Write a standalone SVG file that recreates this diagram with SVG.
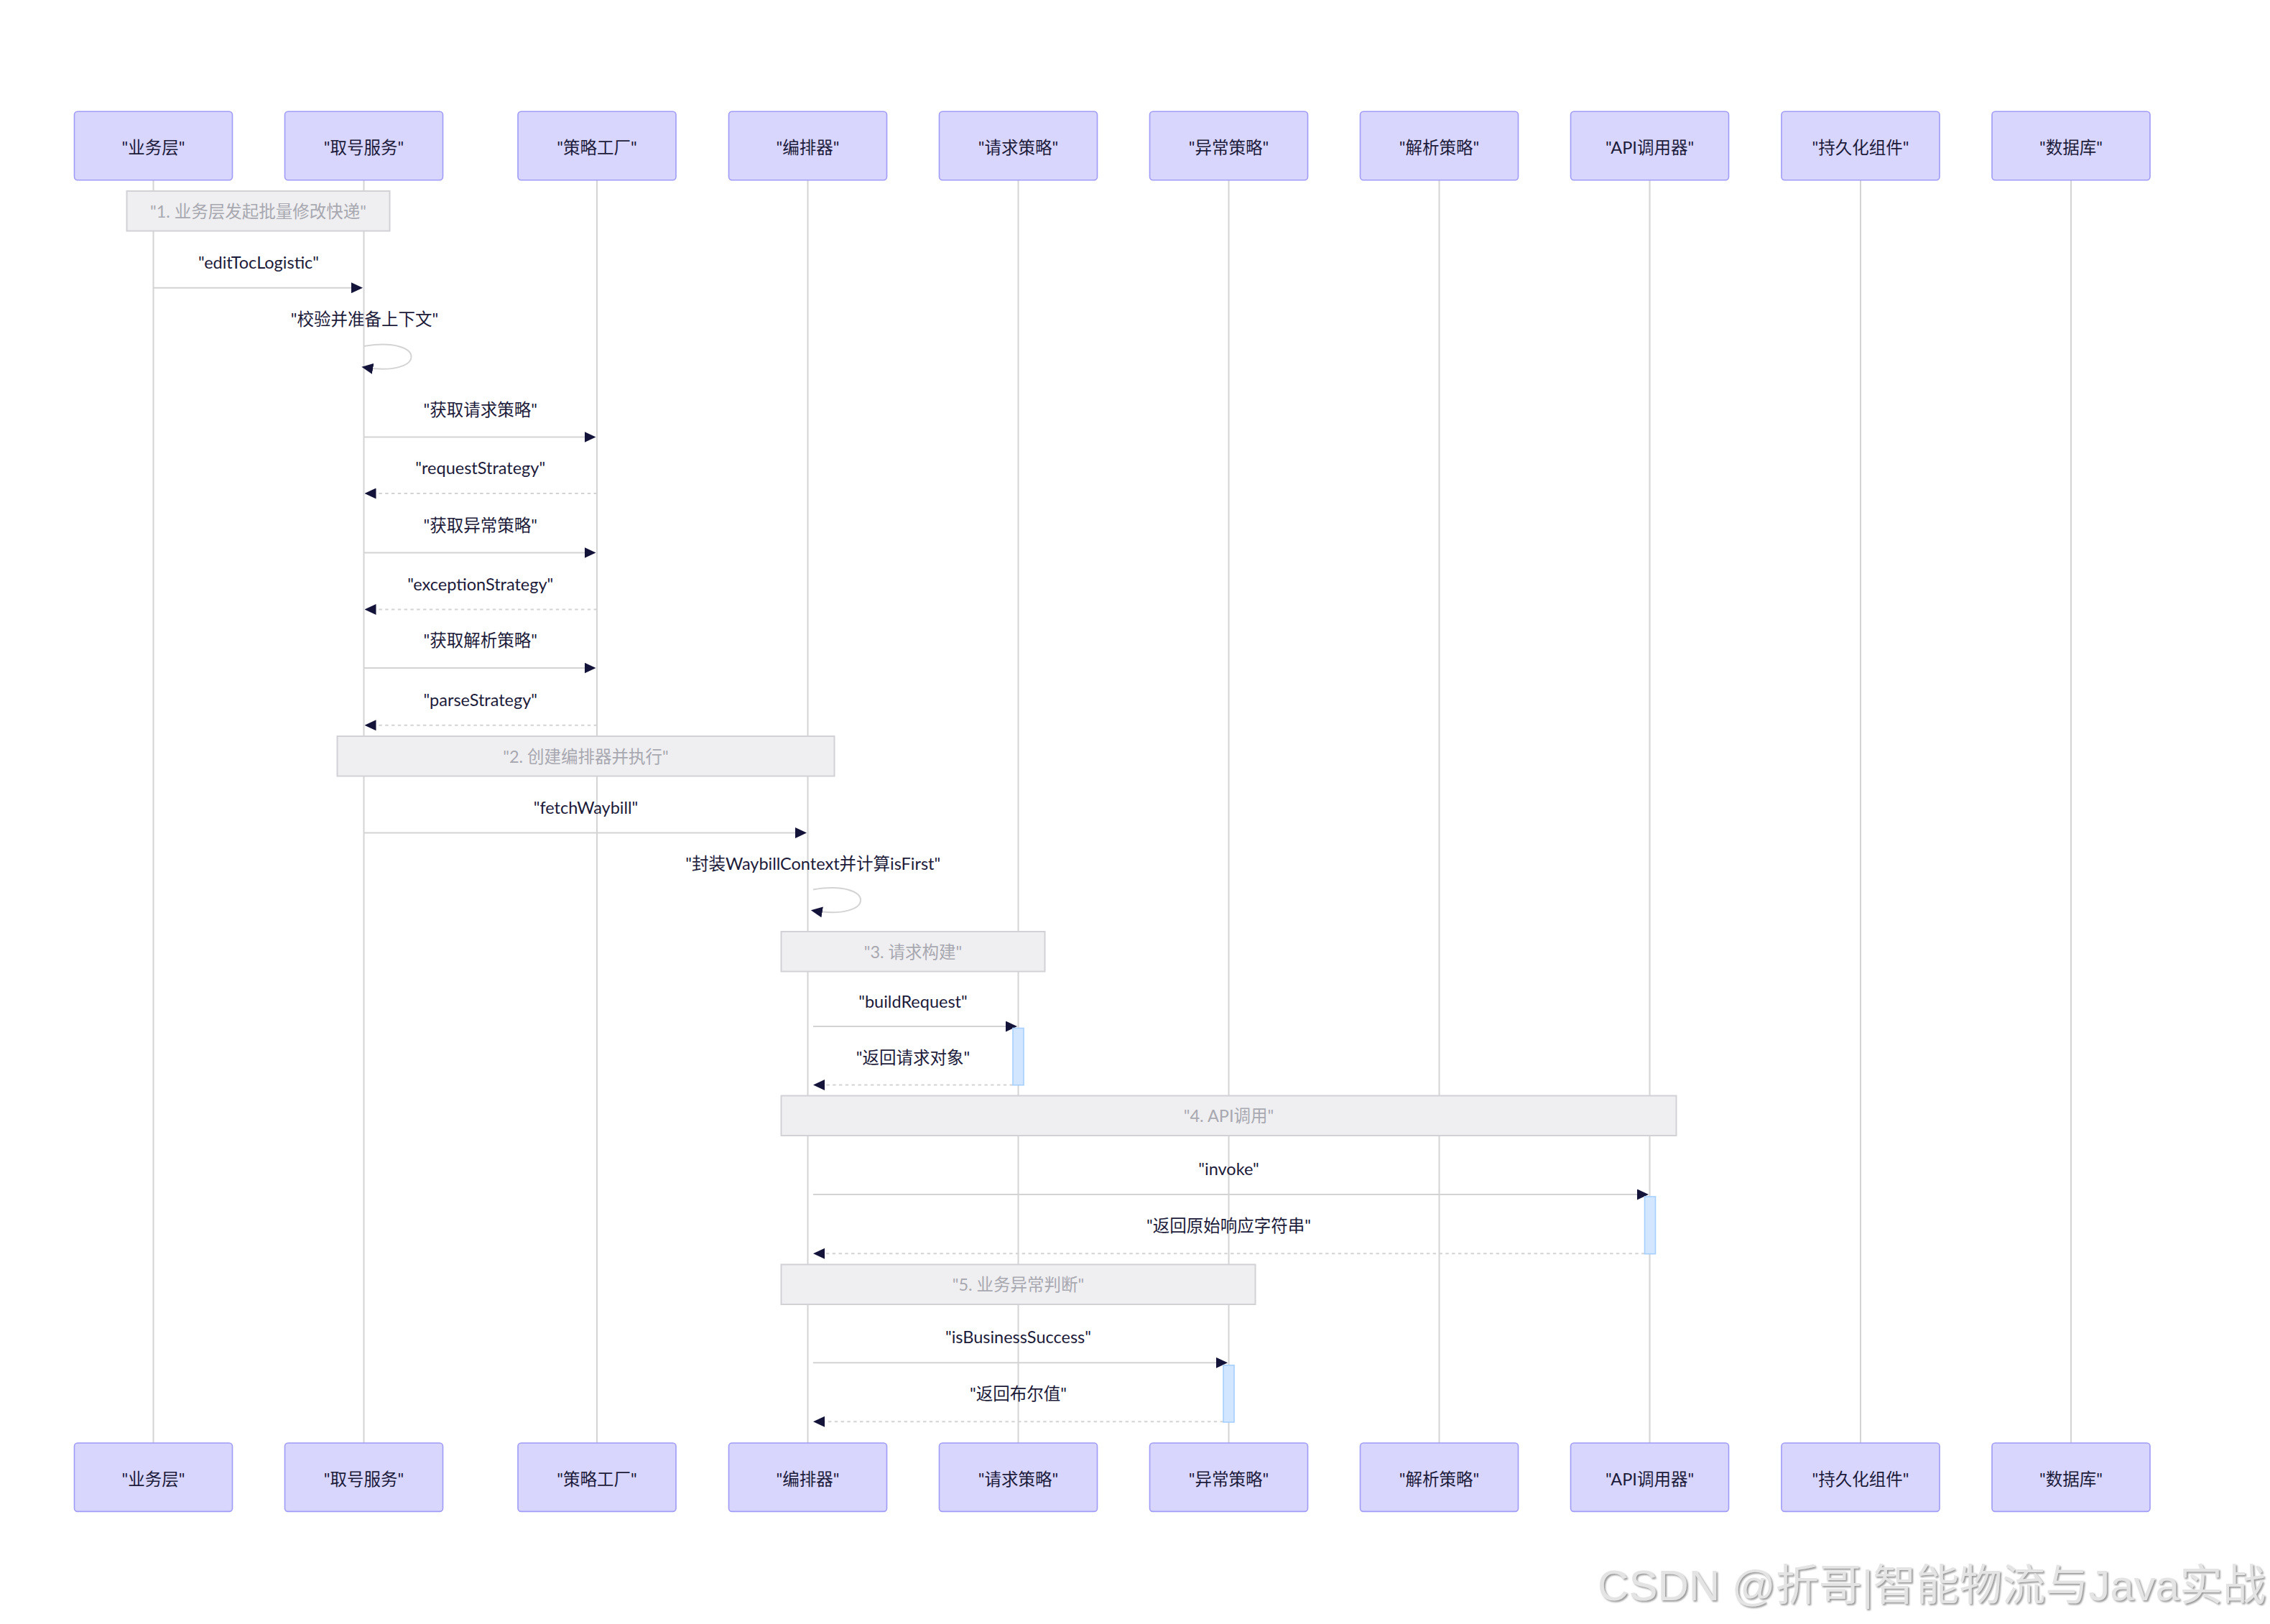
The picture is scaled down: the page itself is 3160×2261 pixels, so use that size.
<svg xmlns="http://www.w3.org/2000/svg" width="3160" height="2261" viewBox="0 0 3160 2261">
<defs>
<style>
text{font-family:Lato,"Noto Sans CJK SC",sans-serif;font-size:23.5px;text-anchor:middle}
.actor{fill:#d9d6fe;stroke:#9f9bf7;stroke-width:1.6}
.atext{fill:#1c1b3a}
.life{stroke:#d4d4d4;stroke-width:2}
.note{fill:#efeff2;stroke:#d2d2d6;stroke-width:2}
.ntext{fill:#a8a8b0}
.msg{fill:none;stroke:#d3d3d3;stroke-width:2;marker-end:url(#ah)}
.dash{stroke-dasharray:4.4 4.4}
.mtext{fill:#1c1b3a}
.act{fill:#d2e6ff;stroke:#a6cfff;stroke-width:1.6}
.wm{font-family:"Liberation Sans","Noto Sans CJK SC",sans-serif;font-size:60px;text-anchor:end;fill:#e4e4e4;filter:url(#sh)}
</style>
<marker id="ah" viewBox="0 0 10 10" markerUnits="userSpaceOnUse" markerWidth="16" markerHeight="15" refX="8" refY="5" orient="auto" preserveAspectRatio="none">
<path d="M0,0 L10,5 L0,10 z" fill="#14143a"/>
</marker>
<filter id="sh" x="-5%" y="-20%" width="110%" height="140%">
<feDropShadow dx="2" dy="2" stdDeviation="1" flood-color="#9a9a9a"/>
</filter>
</defs>
<rect width="3160" height="2261" fill="#ffffff"/>

<g id="p1">
<line class="life" x1="213.5" y1="250.7" x2="213.5" y2="2009"/>
<rect class="actor" x="103.5" y="155.3" width="220" height="95.4" rx="4.4"/>
<text class="atext" x="213.5" y="214">"业务层"</text>
<rect class="actor" x="103.5" y="2009" width="220" height="95.4" rx="4.4"/>
<text class="atext" x="213.5" y="2068">"业务层"</text>
</g>
<g id="p2">
<line class="life" x1="506.5" y1="250.7" x2="506.5" y2="2009"/>
<rect class="actor" x="396.5" y="155.3" width="220" height="95.4" rx="4.4"/>
<text class="atext" x="506.5" y="214">"取号服务"</text>
<rect class="actor" x="396.5" y="2009" width="220" height="95.4" rx="4.4"/>
<text class="atext" x="506.5" y="2068">"取号服务"</text>
</g>
<g id="p3">
<line class="life" x1="831" y1="250.7" x2="831" y2="2009"/>
<rect class="actor" x="721" y="155.3" width="220" height="95.4" rx="4.4"/>
<text class="atext" x="831" y="214">"策略工厂"</text>
<rect class="actor" x="721" y="2009" width="220" height="95.4" rx="4.4"/>
<text class="atext" x="831" y="2068">"策略工厂"</text>
</g>
<g id="p4">
<line class="life" x1="1124.5" y1="250.7" x2="1124.5" y2="2009"/>
<rect class="actor" x="1014.5" y="155.3" width="220" height="95.4" rx="4.4"/>
<text class="atext" x="1124.5" y="214">"编排器"</text>
<rect class="actor" x="1014.5" y="2009" width="220" height="95.4" rx="4.4"/>
<text class="atext" x="1124.5" y="2068">"编排器"</text>
</g>
<g id="p5">
<line class="life" x1="1417.5" y1="250.7" x2="1417.5" y2="2009"/>
<rect class="actor" x="1307.5" y="155.3" width="220" height="95.4" rx="4.4"/>
<text class="atext" x="1417.5" y="214">"请求策略"</text>
<rect class="actor" x="1307.5" y="2009" width="220" height="95.4" rx="4.4"/>
<text class="atext" x="1417.5" y="2068">"请求策略"</text>
</g>
<g id="p6">
<line class="life" x1="1710.5" y1="250.7" x2="1710.5" y2="2009"/>
<rect class="actor" x="1600.5" y="155.3" width="220" height="95.4" rx="4.4"/>
<text class="atext" x="1710.5" y="214">"异常策略"</text>
<rect class="actor" x="1600.5" y="2009" width="220" height="95.4" rx="4.4"/>
<text class="atext" x="1710.5" y="2068">"异常策略"</text>
</g>
<g id="p7">
<line class="life" x1="2003.5" y1="250.7" x2="2003.5" y2="2009"/>
<rect class="actor" x="1893.5" y="155.3" width="220" height="95.4" rx="4.4"/>
<text class="atext" x="2003.5" y="214">"解析策略"</text>
<rect class="actor" x="1893.5" y="2009" width="220" height="95.4" rx="4.4"/>
<text class="atext" x="2003.5" y="2068">"解析策略"</text>
</g>
<g id="p8">
<line class="life" x1="2296.5" y1="250.7" x2="2296.5" y2="2009"/>
<rect class="actor" x="2186.5" y="155.3" width="220" height="95.4" rx="4.4"/>
<text class="atext" x="2296.5" y="214">"API调用器"</text>
<rect class="actor" x="2186.5" y="2009" width="220" height="95.4" rx="4.4"/>
<text class="atext" x="2296.5" y="2068">"API调用器"</text>
</g>
<g id="p9">
<line class="life" x1="2590" y1="250.7" x2="2590" y2="2009"/>
<rect class="actor" x="2480" y="155.3" width="220" height="95.4" rx="4.4"/>
<text class="atext" x="2590" y="214">"持久化组件"</text>
<rect class="actor" x="2480" y="2009" width="220" height="95.4" rx="4.4"/>
<text class="atext" x="2590" y="2068">"持久化组件"</text>
</g>
<g id="p10">
<line class="life" x1="2883" y1="250.7" x2="2883" y2="2009"/>
<rect class="actor" x="2773" y="155.3" width="220" height="95.4" rx="4.4"/>
<text class="atext" x="2883" y="214">"数据库"</text>
<rect class="actor" x="2773" y="2009" width="220" height="95.4" rx="4.4"/>
<text class="atext" x="2883" y="2068">"数据库"</text>
</g>

<g id="note1">
<rect class="note" x="176.5" y="266" width="366" height="55.5"/>
<text class="ntext" x="359.5" y="302.5">"1. 业务层发起批量修改快递"</text>
</g>
<g id="note2">
<rect class="note" x="469.5" y="1025" width="692" height="55.5"/>
<text class="ntext" x="815.5" y="1061.5">"2. 创建编排器并执行"</text>
</g>
<g id="note3">
<rect class="note" x="1087.5" y="1297" width="367" height="55.5"/>
<text class="ntext" x="1271" y="1333.5">"3. 请求构建"</text>
</g>
<g id="note4">
<rect class="note" x="1087.5" y="1525.5" width="1246" height="55.5"/>
<text class="ntext" x="1710.5" y="1562">"4. API调用"</text>
</g>
<g id="note5">
<rect class="note" x="1087.5" y="1760.5" width="660" height="55.5"/>
<text class="ntext" x="1417.5" y="1797">"5. 业务异常判断"</text>
</g>

<g id="connectors">
<path class="msg" d="M213.5,400.7 H501.8"/>
<path class="msg" d="M506.5,482 C594.5,467.3 594.5,526 506.5,511.3"/>
<path class="msg" d="M506.5,608.5 H826.3"/>
<path class="msg dash" d="M831,687 H510.7"/>
<path class="msg" d="M506.5,769.5 H826.3"/>
<path class="msg dash" d="M831,848.5 H510.7"/>
<path class="msg" d="M506.5,930 H826.3"/>
<path class="msg dash" d="M831,1009.7 H510.7"/>
<path class="msg" d="M506.5,1159.6 H1119.8"/>
<path class="msg" d="M1132,1238.5 C1220,1223.8 1220,1282.5 1132,1267.8"/>
<path class="msg" d="M1132,1429 H1412.8"/>
<path class="msg dash" d="M1410,1510.5 H1135.2"/>
<path class="msg" d="M1132,1663 H2291.8"/>
<path class="msg dash" d="M2289.5,1745.3 H1135.2"/>
<path class="msg" d="M1132,1897.3 H1705.8"/>
<path class="msg dash" d="M1703,1979.3 H1135.2"/>
</g>

<g id="activations">
<rect class="act" x="1410" y="1431.5" width="15" height="79.2"/>
<rect class="act" x="2289.5" y="1666" width="15" height="79.7"/>
<rect class="act" x="1703" y="1900.7" width="15" height="79.3"/>
</g>

<g id="labels">
<text class="mtext" x="360" y="374">"editTocLogistic"</text>
<text class="mtext" x="507.5" y="452.5">"校验并准备上下文"</text>
<text class="mtext" x="668.7" y="578.5">"获取请求策略"</text>
<text class="mtext" x="668.7" y="660">"requestStrategy"</text>
<text class="mtext" x="668.7" y="739.5">"获取异常策略"</text>
<text class="mtext" x="668.7" y="821.5">"exceptionStrategy"</text>
<text class="mtext" x="668.7" y="900">"获取解析策略"</text>
<text class="mtext" x="668.7" y="982.7">"parseStrategy"</text>
<text class="mtext" x="815.5" y="1132.6">"fetchWaybill"</text>
<text class="mtext" x="1131.7" y="1210.5">"封装WaybillContext并计算isFirst"</text>
<text class="mtext" x="1271" y="1403">"buildRequest"</text>
<text class="mtext" x="1271" y="1480.5">"返回请求对象"</text>
<text class="mtext" x="1710.5" y="1636">"invoke"</text>
<text class="mtext" x="1710.5" y="1715.3">"返回原始响应字符串"</text>
<text class="mtext" x="1417.5" y="1870.3">"isBusinessSuccess"</text>
<text class="mtext" x="1417.5" y="1949.3">"返回布尔值"</text>
</g>

<text class="wm" x="3154" y="2228">CSDN @折哥|智能物流与Java实战</text>
</svg>
